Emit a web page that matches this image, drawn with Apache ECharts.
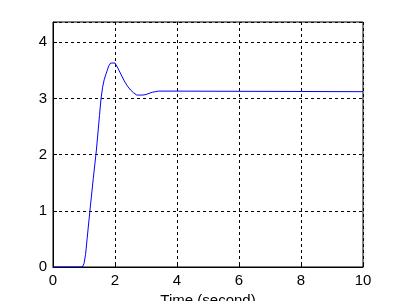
<!DOCTYPE html>
<html><head><meta charset="utf-8">
<script src="https://cdn.jsdelivr.net/npm/echarts@6/dist/echarts.min.js"></script>
<style>html,body{margin:0;padding:0;background:#fff}#c{width:402px;height:301px}</style>
</head><body><div id="c"></div>
<script>
const timeValues = [0, 0.95, 1.0, 1.05, 1.1, 1.2, 1.3, 1.4, 1.5, 1.55, 1.6, 1.65, 1.7, 1.75, 1.8, 1.86, 2.0, 2.1, 2.2, 2.3, 2.4, 2.5, 2.6, 2.7, 2.8, 2.9, 3.0, 3.1, 3.2, 3.3, 3.4, 4.0, 4.05, 10];
const responseValues = [0, 0, 0.06, 0.22, 0.5, 1.05, 1.58, 2.08, 2.7, 3.0, 3.2, 3.33, 3.42, 3.5, 3.58, 3.63, 3.63, 3.53, 3.42, 3.31, 3.22, 3.15, 3.10, 3.06, 3.06, 3.06, 3.07, 3.09, 3.11, 3.12, 3.13, 3.13, 3.12, 3.12];
const xTicks = [0, 2, 4, 6, 8, 10];
const yTicks = [0, 1, 2, 3, 4];
const xLabel = 'Time (second)';

const chart = echarts.init(document.getElementById('c'), null, {renderer: 'canvas'});
const font = 'Liberation Sans, Arial, sans-serif';
const dashed = {show: true, lineStyle: {color: '#000', type: [3, 3], width: 1}};
chart.setOption({
  animation: false,
  backgroundColor: '#fff',
  grid: {left: 53, top: 22, right: 39, bottom: 34, show: true, borderColor: '#000', borderWidth: 1,
    containLabel: false, outerBoundsMode: 'none'},
  xAxis: {
    type: 'value', min: xTicks[0], max: xTicks[xTicks.length - 1], interval: 2,
    name: xLabel, nameLocation: 'middle', nameGap: 24,
    nameTextStyle: {color: '#000', fontSize: 15, fontFamily: font},
    axisLine: {show: true, lineStyle: {color: '#000', width: 1}},
    axisTick: {show: true, inside: true, length: 4, lineStyle: {color: '#000'}},
    axisLabel: {color: '#000', fontSize: 15, fontFamily: font, margin: 6},
    splitLine: dashed
  },
  yAxis: {
    type: 'value', min: 0, max: 4.36, interval: 1,
    axisLine: {show: true, lineStyle: {color: '#000', width: 1}},
    axisTick: {show: true, inside: true, length: 4, lineStyle: {color: '#000'}},
    axisLabel: {color: '#000', fontSize: 15, fontFamily: font, margin: 6,
      formatter: v => yTicks.includes(v) ? String(v) : ''},
    splitLine: dashed
  },
  series: [{
    type: 'line', showSymbol: false, smooth: false,
    data: timeValues.map((t, i) => [t, responseValues[i]]),
    lineStyle: {color: '#0000ff', width: 1}
  }]
});
</script></body></html>
